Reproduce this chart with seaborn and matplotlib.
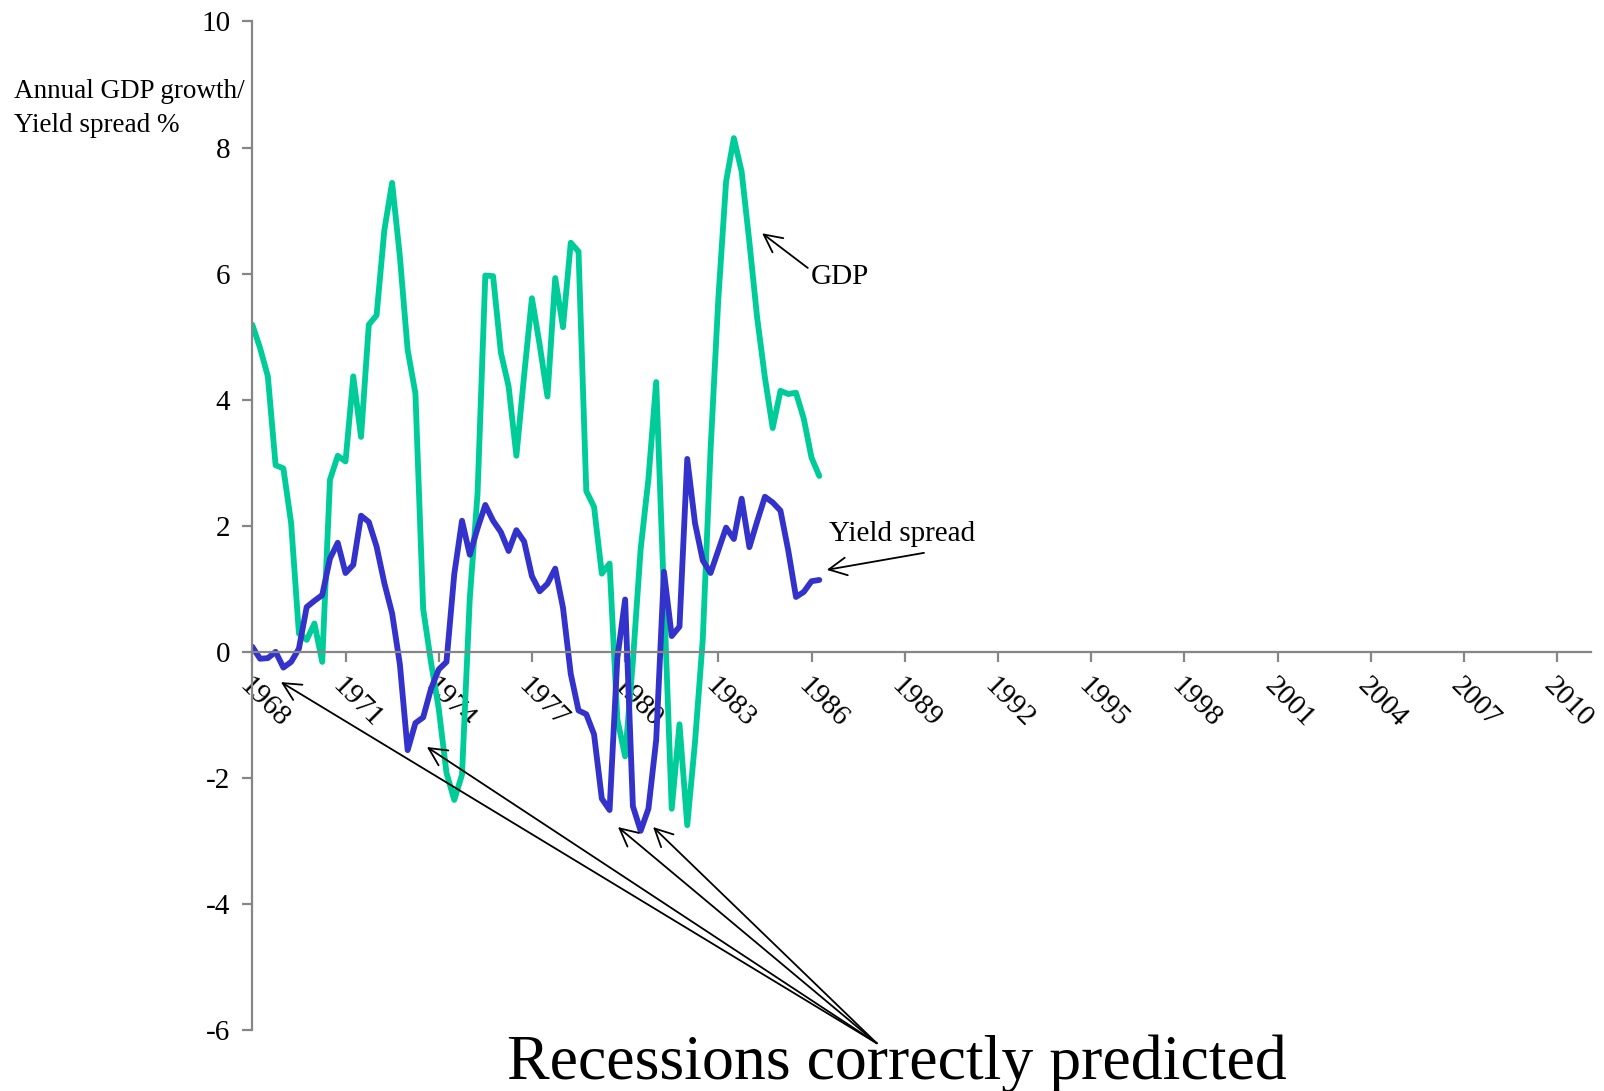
import matplotlib
matplotlib.use("Agg")
import pandas as pd
import matplotlib.pyplot as plt
import seaborn as sns

# quarterly data, 1968Q1 .. 1986Q2
quarters = pd.period_range("1968Q1", "1986Q2", freq="Q")
gdp_growth = [
    5.19, 4.82, 4.37, 2.96, 2.91, 2.04, 0.29, 0.19, 0.45, -0.16,
    2.73, 3.11, 3.02, 4.37, 3.41, 5.19, 5.34, 6.69, 7.44, 6.27,
    4.79, 4.10, 0.68, -0.16, -0.90, -1.92, -2.35, -1.95, 0.85, 2.51,
    5.97, 5.96, 4.75, 4.21, 3.11, 4.39, 5.61, 4.87, 4.05, 5.93,
    5.15, 6.49, 6.35, 2.55, 2.30, 1.24, 1.40, -1.07, -1.66, -0.15,
    1.63, 2.74, 4.28, 0.90, -2.49, -1.15, -2.75, -1.43, 0.20, 3.20,
    5.60, 7.46, 8.15, 7.62, 6.50, 5.30, 4.35, 3.55, 4.14, 4.09,
    4.11, 3.70, 3.08, 2.79,
]
yield_spread = [
    0.08, -0.11, -0.10, 0.00, -0.25, -0.16, 0.05, 0.71, 0.81, 0.90,
    1.48, 1.73, 1.25, 1.38, 2.16, 2.06, 1.67, 1.09, 0.61, -0.20,
    -1.56, -1.13, -1.04, -0.59, -0.28, -0.16, 1.23, 2.08, 1.54, 1.96,
    2.33, 2.08, 1.90, 1.60, 1.93, 1.75, 1.20, 0.96, 1.08, 1.32,
    0.70, -0.35, -0.93, -0.99, -1.31, -2.33, -2.51, -0.10, 0.83, -2.45,
    -2.84, -2.49, -1.40, 1.27, 0.25, 0.40, 3.06, 2.04, 1.45, 1.25,
    1.61, 1.97, 1.79, 2.43, 1.66, 2.07, 2.46, 2.37, 2.24, 1.61,
    0.87, 0.95, 1.12, 1.14,
]
year_ticks = list(range(1968, 2011, 3))
y_ticks = list(range(-6, 11, 2))

# recession points the arrows aim at (year, value)
recession_years = [1968.92, 1973.62, 1979.77, 1980.90]
recession_values = [-0.48, -1.51, -2.78, -2.78]

t = [q.year + (q.quarter - 1) / 4 for q in quarters]
df = pd.DataFrame({"t": t, "GDP": gdp_growth, "Yield spread": yield_spread})
long = df.melt(id_vars="t", var_name="series", value_name="value")

sns.set_style("white")
plt.rcParams["font.family"] = ["Liberation Serif", "DejaVu Serif"]
plt.rcParams["text.color"] = "black"
plt.rcParams["xtick.labelcolor"] = "black"
plt.rcParams["ytick.labelcolor"] = "black"

fig = plt.figure(figsize=(16.04, 10.91), dpi=100)
ax = fig.add_axes([0.1573, 0.0559, 0.8346, 0.9244])

sns.lineplot(data=long, x="t", y="value", hue="series",
             palette={"GDP": "#00CC99", "Yield spread": "#3333CC"},
             linewidth=4.2, legend=False, ax=ax)
for line in ax.lines:
    line.set_solid_joinstyle("round")

ax.set_xlim(1968, 2011.09)
ax.set_ylim(-6, 10)
ax.set_xlabel("")
ax.set_ylabel("")

grey = "#868686"
for s in ["top", "right"]:
    ax.spines[s].set_visible(False)
ax.spines["bottom"].set_position(("data", 0))
for s in ["left", "bottom"]:
    ax.spines[s].set_color(grey)
    ax.spines[s].set_linewidth(1.6)

ax.set_yticks(y_ticks)
ax.set_yticklabels([str(v) for v in y_ticks])
ax.set_xticks(year_ticks)
ax.set_xticklabels([str(y) for y in year_ticks], rotation=-45, ha="left",
                   va="top", rotation_mode="anchor")
ax.tick_params(axis="both", direction="out", length=7, width=1.6, color=grey,
               labelsize=21, labelcolor="black", left=True, bottom=True)
ax.tick_params(axis="y", pad=9)
ax.tick_params(axis="x", pad=8)

fig.text(0.009, 0.9005, "Annual GDP growth/\nYield spread %", fontsize=19.5,
         ha="left", va="center", linespacing=1.45)

arrow = dict(arrowstyle="->", lw=1.3, color="black", mutation_scale=32,
             shrinkA=0, shrinkB=0)
ax.annotate("", xy=(1984.41, 6.64), xytext=(1985.88, 6.09), arrowprops=arrow)
ax.text(1985.98, 5.94, "GDP", fontsize=21, ha="left", va="center")
ax.annotate("", xy=(1986.49, 1.30), xytext=(1989.62, 1.57), arrowprops=arrow)
ax.text(1986.56, 1.87, "Yield spread", fontsize=21, ha="left", va="center")

for rx, ry in zip(recession_years, recession_values):
    ax.annotate("", xy=(rx, ry), xytext=(1988.1, -6.21), arrowprops=arrow,
                annotation_clip=False)
fig.text(897 / 1604, 1 - 1064 / 1091, "Recessions correctly predicted",
         fontsize=46, ha="center", va="center")

fig.savefig("out.png", dpi=100)
